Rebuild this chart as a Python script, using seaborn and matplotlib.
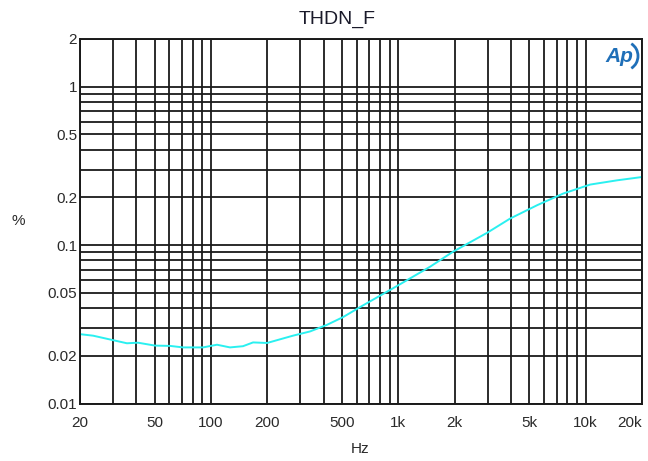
import numpy as np
import pandas as pd
import matplotlib
matplotlib.use("Agg")
import matplotlib.pyplot as plt
import matplotlib.ticker as mticker
from matplotlib.patches import Arc
import seaborn as sns

# THD+N vs frequency
freq_hz = [20, 23.5, 35.6, 40.8, 50.3, 60.5, 70.9, 90.7, 107.7, 126.4, 148.3,
           167.8, 199.3, 274, 338, 417, 507, 625, 985, 1478, 1960, 2978,
           3952, 5508, 7586, 10568, 14730, 20000]
thdn_pct = [0.0274, 0.0268, 0.0240, 0.0242, 0.0232, 0.0231, 0.0226, 0.0226,
            0.0235, 0.0226, 0.0230, 0.0243, 0.0241, 0.0268, 0.0285, 0.0314,
            0.0351, 0.0406, 0.0552, 0.0730, 0.0908, 0.1195, 0.147, 0.1785,
            0.2114, 0.241, 0.2564, 0.269]

x_ticks = [20, 50, 100, 200, 500, 1000, 2000, 5000, 10000, 20000]
x_labels = ["20", "50", "100", "200", "500", "1k", "2k", "5k", "10k", "20k"]
y_ticks = [0.01, 0.02, 0.05, 0.1, 0.2, 0.5, 1, 2]
y_labels = ["0.01", "0.02", "0.05", "0.1", "0.2", "0.5", "1", "2"]

df = pd.DataFrame({"Hz": freq_hz, "pct": thdn_pct})

sns.set_style("white")
plt.rcParams["font.family"] = ["Liberation Sans Narrow", "Liberation Sans", "DejaVu Sans"]

fig = plt.figure(figsize=(6.48, 4.61), dpi=100)
ax = fig.add_axes([80 / 648, 1 - 403.5 / 461, 562 / 648, 364.5 / 461])

sns.lineplot(data=df, x="Hz", y="pct", ax=ax, color="#2af0f0", linewidth=1.4)

ax.set_xscale("log")
ax.set_yscale("log")
ax.set_xlim(20, 20000)
ax.set_ylim(0.01, 2)

ax.xaxis.set_major_locator(mticker.FixedLocator(x_ticks))
ax.xaxis.set_minor_locator(mticker.LogLocator(base=10, subs=np.arange(2, 10)))
ax.yaxis.set_major_locator(mticker.FixedLocator(y_ticks))
ax.yaxis.set_minor_locator(mticker.LogLocator(base=10, subs=np.arange(2, 10)))
ax.xaxis.set_minor_formatter(mticker.NullFormatter())
ax.yaxis.set_minor_formatter(mticker.NullFormatter())
ax.set_xticklabels(x_labels)
ax.set_yticklabels(y_labels)

ax.grid(True, which="both", color="#1a1a1a", linewidth=1.3)
ax.tick_params(which="both", length=0, labelsize=11, colors="#2a2a2a")
ax.tick_params(axis="x", pad=9)
ax.tick_params(axis="y", pad=2)
ax.get_xticklabels()[-1].set_horizontalalignment("right")
for s in ax.spines.values():
    s.set_color("#1a1a1a")
    s.set_linewidth(1.4)

ax.set_xlabel("")
ax.set_ylabel("")
fig.text(360 / 648, 1 - 449 / 461, "Hz", ha="center", va="center", fontsize=11, color="#2a2a2a")
fig.text(18 / 648, 1 - 221 / 461, "%", ha="center", va="center", fontsize=11, color="#2a2a2a")
fig.text(337 / 648, 1 - 24 / 461, "THDN_F", ha="center", va="baseline", fontsize=14, color="#1a1a2a")

# Ap logo
fig.text(619 / 648, 1 - 56 / 461, "Ap", ha="center", va="center", fontsize=15,
         fontweight="bold", fontstyle="italic", color="#1f6fb8", family="Liberation Sans")
logo_arc = Arc((625 / 648, 1 - 56 / 461), 26 / 648, 28 / 461, theta1=-70, theta2=70,
               transform=fig.transFigure, color="#1f6fb8", linewidth=2)
fig.add_artist(logo_arc)

fig.savefig("out.png", dpi=100)
